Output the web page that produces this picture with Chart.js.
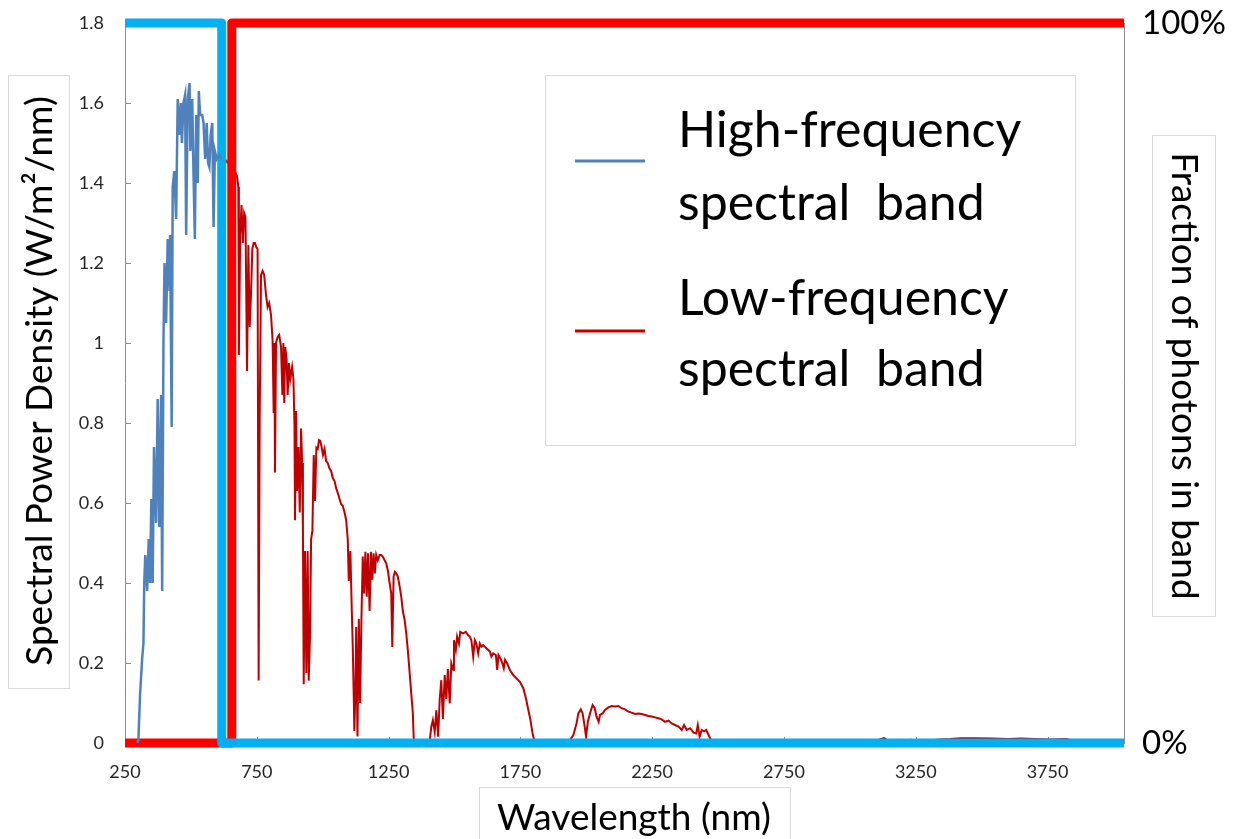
<!DOCTYPE html>
<html>
<head>
    <title>Spectral bands</title>
    <script src="https://cdn.jsdelivr.net/npm/chart.js"></script>
    <style>
        html, body { margin: 0; padding: 0; background: #fff; }
    </style>
</head>
<body>
<canvas id="chart" width="1233" height="839"></canvas>

<script>
    // wavelength axis
    var xTicks = [250, 750, 1250, 1750, 2250, 2750, 3250, 3750];
    var xTickLabels = ['250', '750', '1250', '1750', '2250', '2750', '3250', '3750'];
    var yTicks = [0, 0.2, 0.4, 0.6, 0.8, 1, 1.2, 1.4, 1.6, 1.8];
    var yTickLabels = ['0', '0.2', '0.4', '0.6', '0.8', '1', '1.2', '1.4', '1.6', '1.8'];
    var fractionTicks = [0, 100];
    var fractionLabels = ['0%', '100%'];

    // high-frequency part of the spectrum (nm, W/m2/nm)
    var blueNm = [298, 301, 307, 315, 320, 323, 327, 334, 340, 345, 350, 355, 360, 368, 374, 380, 387, 391, 396, 400,
        406, 412, 419, 421, 427, 431, 437, 444, 450, 456, 462, 466, 472, 478, 482, 488, 495, 498, 505, 510,
        515, 520, 526, 530, 535, 543, 548, 554, 560, 565, 570, 575, 581, 586, 591, 598, 606, 617];
    var bluePower = [0, 0.01, 0.12, 0.21, 0.25, 0.40, 0.47, 0.38, 0.51, 0.40, 0.61, 0.40, 0.74, 0.55, 0.86, 0.54, 0.87, 0.38, 1.01, 1.20,
        1.05, 1.26, 1.13, 1.27, 0.79, 1.39, 1.43, 1.31, 1.61, 1.52, 1.60, 1.50, 1.60, 1.62, 1.27, 1.61, 1.65, 1.48, 1.61, 1.42,
        1.26, 1.57, 1.40, 1.63, 1.57, 1.57, 1.55, 1.46, 1.55, 1.45, 1.44, 1.52, 1.55, 1.29, 1.48, 1.46, 1.47, 1.46];

    // low-frequency part of the spectrum (nm, W/m2/nm)
    var redNm = [617, 640, 660, 675, 680, 682, 687, 692, 697, 702, 707, 713, 718, 723, 728, 733, 738, 743, 748, 753,
        757, 761, 766, 772, 778, 785, 791, 797, 804, 810, 814, 817, 819, 823, 829, 835, 842, 847, 851, 854,
        858, 863, 867, 872, 877, 884, 889, 893, 895, 899, 903, 908, 913, 918, 922, 925, 928, 933, 938, 943,
        947, 952, 956, 961, 966, 971, 976, 981, 986, 991, 996, 1001, 1007, 1013, 1019, 1026, 1032, 1038, 1045, 1051,
        1057, 1064, 1070, 1076, 1083, 1089, 1095, 1099, 1105, 1110, 1114, 1118, 1120, 1124, 1127, 1132, 1137, 1142, 1147, 1152,
        1157, 1162, 1167, 1172, 1178, 1183, 1188, 1193, 1198, 1203, 1209, 1216, 1222, 1228, 1235, 1241, 1247, 1254, 1260, 1264,
        1269, 1274, 1279, 1285, 1292, 1298, 1304, 1311, 1317, 1323, 1330, 1336, 1342, 1346, 1405, 1412, 1418, 1425, 1431, 1438,
        1444, 1450, 1456, 1463, 1469, 1475, 1482, 1488, 1495, 1498, 1505, 1510, 1517, 1522, 1532, 1543, 1551, 1558, 1564, 1571,
        1577, 1583, 1590, 1596, 1602, 1609, 1615, 1621, 1634, 1640, 1647, 1657, 1662, 1667, 1674, 1682, 1687, 1692, 1700, 1710,
        1723, 1735, 1748, 1761, 1771, 1780, 1788, 1796, 1805, 1938, 1951, 1963, 1970, 1979, 1986, 1994, 1999, 2006, 2014, 2024,
        2032, 2039, 2047, 2052, 2062, 2071, 2084, 2096, 2109, 2122, 2134, 2147, 2160, 2172, 2185, 2198, 2210, 2223, 2236, 2248,
        2261, 2274, 2286, 2299, 2312, 2324, 2337, 2350, 2362, 2371, 2381, 2394, 2407, 2417, 2423, 2430, 2438, 2447, 2455, 2464,
        2473, 2480, 2900, 2913, 2990, 3040, 3110, 3130, 3150, 3200, 3230, 3260, 3300, 3340, 3380, 3420, 3480, 3540, 3600, 3650,
        3700, 3760, 3820, 3850, 3880, 4000];
    var redPower = [1.47, 1.45, 1.44, 1.416, 1.39, 0.97, 1.27, 1.345, 1.25, 1.325, 1.315, 0.93, 1.245, 1.04, 1.12, 1.235, 1.25, 1.25, 1.24, 1.235,
        0.156, 0.815, 1.17, 1.18, 1.17, 1.12, 1.09, 1.10, 1.07, 1.005, 0.825, 1.0, 0.676, 1.0, 1.015, 1.02, 0.99, 0.87, 1.0, 0.85,
        0.99, 0.96, 0.87, 0.95, 0.91, 0.94, 0.91, 0.795, 0.557, 0.83, 0.63, 0.74, 0.576, 0.786, 0.70, 0.53, 0.147, 0.48, 0.175, 0.48,
        0.156, 0.27, 0.51, 0.53, 0.72, 0.605, 0.738, 0.735, 0.757, 0.755, 0.74, 0.72, 0.735, 0.705, 0.70, 0.686, 0.68, 0.663, 0.655, 0.637,
        0.626, 0.61, 0.597, 0.593, 0.576, 0.557, 0.51, 0.405, 0.48, 0.34, 0.243, 0.11, 0.03, 0.125, 0.29, 0.016, 0.31, 0.10, 0.311, 0.466,
        0.374, 0.478, 0.366, 0.474, 0.33, 0.478, 0.408, 0.474, 0.424, 0.47, 0.457, 0.47, 0.47, 0.466, 0.457, 0.449, 0.432, 0.399, 0.374, 0.24,
        0.416, 0.428, 0.424, 0.416, 0.391, 0.366, 0.33, 0.307, 0.274, 0.232, 0.174, 0.124, 0.074, 0, 0, 0.04, 0.057, 0.028, 0.082, 0.016,
        0.11, 0.157, 0.06, 0.17, 0.11, 0.185, 0.099, 0.199, 0.183, 0.257, 0.2325, 0.266, 0.249, 0.278, 0.274, 0.278, 0.27, 0.266, 0.257, 0.216,
        0.257, 0.249, 0.224, 0.249, 0.241, 0.245, 0.241, 0.237, 0.229, 0.216, 0.224, 0.22, 0.1825, 0.22, 0.212, 0.199, 0.187, 0.208, 0.199, 0.1825,
        0.17, 0.162, 0.153, 0.137, 0.112, 0.083, 0.058, 0.025, 0, 0.0075, 0.02, 0.049, 0.074, 0.084, 0.074, 0.041, 0.016, 0.053, 0.074, 0.095,
        0.087, 0.066, 0.053, 0.07, 0.074, 0.0825, 0.089, 0.0925, 0.091, 0.0925, 0.087, 0.084, 0.0785, 0.076, 0.0725, 0.074, 0.0725, 0.07, 0.0675, 0.066,
        0.064, 0.062, 0.059, 0.053, 0.056, 0.049, 0.045, 0.041, 0.0325, 0.045, 0.0325, 0.037, 0.026, 0.024, 0.045, 0.016, 0.0325, 0.029, 0.0325, 0.02,
        0.0075, 0, 0, 0.004, 0.005, 0.004, 0.008, 0.012, 0.004, 0.003, 0.008, 0.004, 0.006, 0.009, 0.010, 0.012, 0.012, 0.011, 0.010, 0.011,
        0.010, 0.009, 0.010, 0.006, 0, 0];

    // fraction of photons in each band (step at the split wavelength)
    var highBandNm = [250, 617, 617, 4040];
    var highBandFraction = [100, 100, 0, 0];
    var lowBandNm = [250, 655, 655, 4040];
    var lowBandFraction = [0, 0, 100, 100];

    var FONT = 'Lato, "Open Sans", sans-serif';

    function points(xs, ys) {
        return xs.map(function(x, i) { return {x: x, y: ys[i]}; });
    }

    function frame(ctx, x, y, w, h) {
        ctx.strokeStyle = '#d9d9d9';
        ctx.lineWidth = 1;
        ctx.strokeRect(x + 0.5, y + 0.5, w, h);
    }

    // keep the plot area where the axes put it, labels may overhang
    function noPadding(scale) {
        scale.paddingTop = 0;
        scale.paddingBottom = 0;
    }

    // small tick marks pointing into the plot
    var innerTicks = {
        id: 'innerTicks',
        beforeDatasetsDraw: function(chart) {
            var ctx = chart.ctx, a = chart.chartArea, x = chart.scales.x, y = chart.scales.y;
            ctx.save();
            ctx.strokeStyle = '#8c8c8c';
            ctx.lineWidth = 1;
            ctx.beginPath();
            xTicks.forEach(function(v) {
                var px = Math.round(x.getPixelForValue(v)) + 0.5;
                ctx.moveTo(px, a.bottom);
                ctx.lineTo(px, a.bottom - 6);
            });
            yTicks.forEach(function(v) {
                var py = Math.round(y.getPixelForValue(v)) + 0.5;
                ctx.moveTo(a.left, py);
                ctx.lineTo(a.left + 6, py);
            });
            ctx.stroke();
            ctx.restore();
        }
    };

    // boxed axis titles and the legend
    var annotations = {
        id: 'annotations',
        afterDraw: function(chart) {
            var ctx = chart.ctx;
            var ds = chart.data.datasets;
            ctx.save();

            frame(ctx, 8, 75, 61, 613);
            frame(ctx, 479, 787, 311, 60);
            frame(ctx, 1152, 135, 63, 481);
            frame(ctx, 545, 75, 530, 370);

            ctx.fillStyle = '#000';
            ctx.textAlign = 'center';
            ctx.textBaseline = 'middle';
            ctx.font = '37px ' + FONT;

            ctx.save();
            ctx.translate(40, 381);
            ctx.rotate(-Math.PI / 2);
            ctx.fillText('Spectral Power Density (W/m\u00b2/nm)', 0, 0);
            ctx.restore();

            ctx.fillText('Wavelength (nm)', 634, 818);

            ctx.save();
            ctx.translate(1184, 376);
            ctx.rotate(Math.PI / 2);
            ctx.fillText('Fraction of photons in band', 0, 0);
            ctx.restore();

            // legend
            ctx.lineWidth = 3;
            ctx.strokeStyle = ds[0].borderColor;
            ctx.beginPath(); ctx.moveTo(575, 161); ctx.lineTo(645, 161); ctx.stroke();
            ctx.strokeStyle = ds[3].borderColor;
            ctx.beginPath(); ctx.moveTo(575, 331); ctx.lineTo(645, 331); ctx.stroke();

            ctx.textAlign = 'left';
            ctx.font = '50px ' + FONT;
            ctx.fillText('High-frequency', 678, 131);
            ctx.fillText('spectral  band', 678, 204);
            ctx.fillText('Low-frequency', 678, 299);
            ctx.fillText('spectral  band', 678, 370);

            ctx.restore();
        }
    };

    var ctx = document.getElementById('chart').getContext('2d');
    var chart = new Chart(ctx, {
        type: 'line',
        data: {
            datasets: [{
                label: 'High-frequency spectral band',
                data: points(blueNm, bluePower),
                borderColor: '#4F81BD',
                borderWidth: 2.5,
                pointRadius: 0,
                yAxisID: 'y'
            }, {
                label: 'High-frequency fraction',
                data: points(highBandNm, highBandFraction),
                borderColor: '#00B0F0',
                borderWidth: 9,
                borderJoinStyle: 'round',
                pointRadius: 0,
                clip: 8,
                yAxisID: 'y1'
            }, {
                label: 'Low-frequency fraction',
                data: points(lowBandNm, lowBandFraction),
                borderColor: '#FF0000',
                borderWidth: 9,
                borderJoinStyle: 'round',
                pointRadius: 0,
                clip: 8,
                yAxisID: 'y1'
            }, {
                label: 'Low-frequency spectral band',
                data: points(redNm, redPower),
                borderColor: '#C00000',
                borderWidth: 2,
                pointRadius: 0,
                yAxisID: 'y'
            }]
        },
        options: {
            responsive: false,
            animation: false,
            layout: { padding: { top: 23, left: 0, right: 0, bottom: 0 } },
            plugins: {
                legend: { display: false },
                tooltip: { enabled: false }
            },
            scales: {
                x: {
                    type: 'linear',
                    min: 250,
                    max: 4040,
                    afterBuildTicks: function(scale) {
                        scale.ticks = xTicks.map(function(v) { return {value: v}; });
                    },
                    afterFit: function(scale) {
                        scale.height = 96;
                        scale.paddingLeft = 0;
                        scale.paddingRight = 0;
                    },
                    grid: { display: false, drawTicks: false },
                    border: { display: false },
                    ticks: {
                        padding: 18,
                        maxRotation: 0,
                        autoSkip: false,
                        color: '#262626',
                        font: { family: FONT, size: 18 },
                        callback: function(value, index) { return xTickLabels[index]; }
                    }
                },
                y: {
                    position: 'left',
                    min: 0,
                    max: 1.8,
                    afterBuildTicks: function(scale) {
                        scale.ticks = yTicks.map(function(v) { return {value: v}; });
                    },
                    afterFit: function(scale) {
                        scale.width = 125;
                        noPadding(scale);
                    },
                    grid: { display: false, drawTicks: false },
                    border: { display: true, color: '#8c8c8c', width: 1 },
                    ticks: {
                        padding: 21,
                        color: '#262626',
                        font: { family: FONT, size: 18 },
                        callback: function(value, index) { return yTickLabels[index]; }
                    }
                },
                y1: {
                    position: 'right',
                    min: 0,
                    max: 100,
                    afterBuildTicks: function(scale) {
                        scale.ticks = fractionTicks.map(function(v) { return {value: v}; });
                    },
                    afterFit: function(scale) {
                        scale.width = 109;
                        noPadding(scale);
                    },
                    grid: { display: false, drawTicks: false },
                    border: { display: true, color: '#8c8c8c', width: 1 },
                    ticks: {
                        padding: 18,
                        color: '#000',
                        font: { family: FONT, size: 33 },
                        callback: function(value, index) { return fractionLabels[index]; }
                    }
                }
            }
        },
        plugins: [innerTicks, annotations]
    });
</script>
</body>
</html>
